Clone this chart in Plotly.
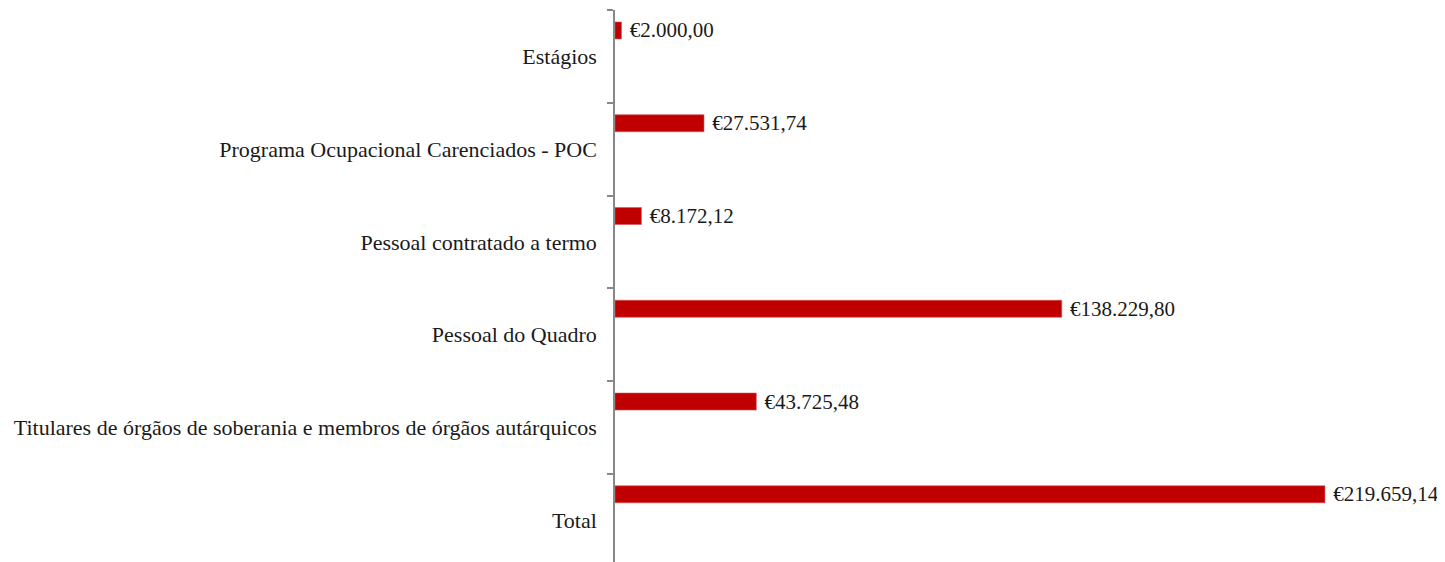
import plotly.graph_objects as go

categories = [
    "Total",
    "Titulares de órgãos de soberania e membros de órgãos autárquicos",
    "Pessoal do Quadro",
    "Pessoal contratado a termo",
    "Programa Ocupacional Carenciados - POC",
    "Estágios",
]
values = [219659.14, 43725.48, 138229.80, 8172.12, 27531.74, 2000.00]


def eur(v):
    s = f"{v:,.2f}"
    s = s.replace(",", "X").replace(".", ",").replace("X", ".")
    return "€" + s


labels = ["\u00a0" + eur(v) for v in values]

fig = go.Figure(
    go.Bar(
        x=values,
        y=categories,
        orientation="h",
        width=0.183,
        offset=0.188,
        marker=dict(color="#C00000", line=dict(color="#D85050", width=0.6)),
        text=labels,
        textposition="outside",
        constraintext="none",
        textfont=dict(family="Liberation Serif", size=21, color="#1a1a1a"),
        cliponaxis=False,
    )
)

fig.update_layout(
    width=1437,
    height=554,
    margin=dict(l=607, r=22, t=2, b=0, autoexpand=False),
    plot_bgcolor="white",
    paper_bgcolor="white",
    showlegend=False,
    font=dict(family="Liberation Serif", size=22, color="#1a1a1a"),
    xaxis=dict(range=[0, 250000], visible=False, showgrid=False, zeroline=False,
               automargin=False),
    yaxis=dict(
        type="category",
        categoryorder="array",
        categoryarray=categories,
        range=[-0.45, 5.5],
        automargin=False,
        showline=True,
        linecolor="#888888",
        linewidth=1.5,
        ticks="outside",
        tickson="boundaries",
        ticklen=6,
        tickcolor="#888888",
        tickwidth=1.5,
        ticklabelstandoff=12,
        showgrid=False,
        zeroline=False,
        tickfont=dict(family="Liberation Serif", size=22, color="#1a1a1a"),
    ),
)

fig.write_html("out.html")
